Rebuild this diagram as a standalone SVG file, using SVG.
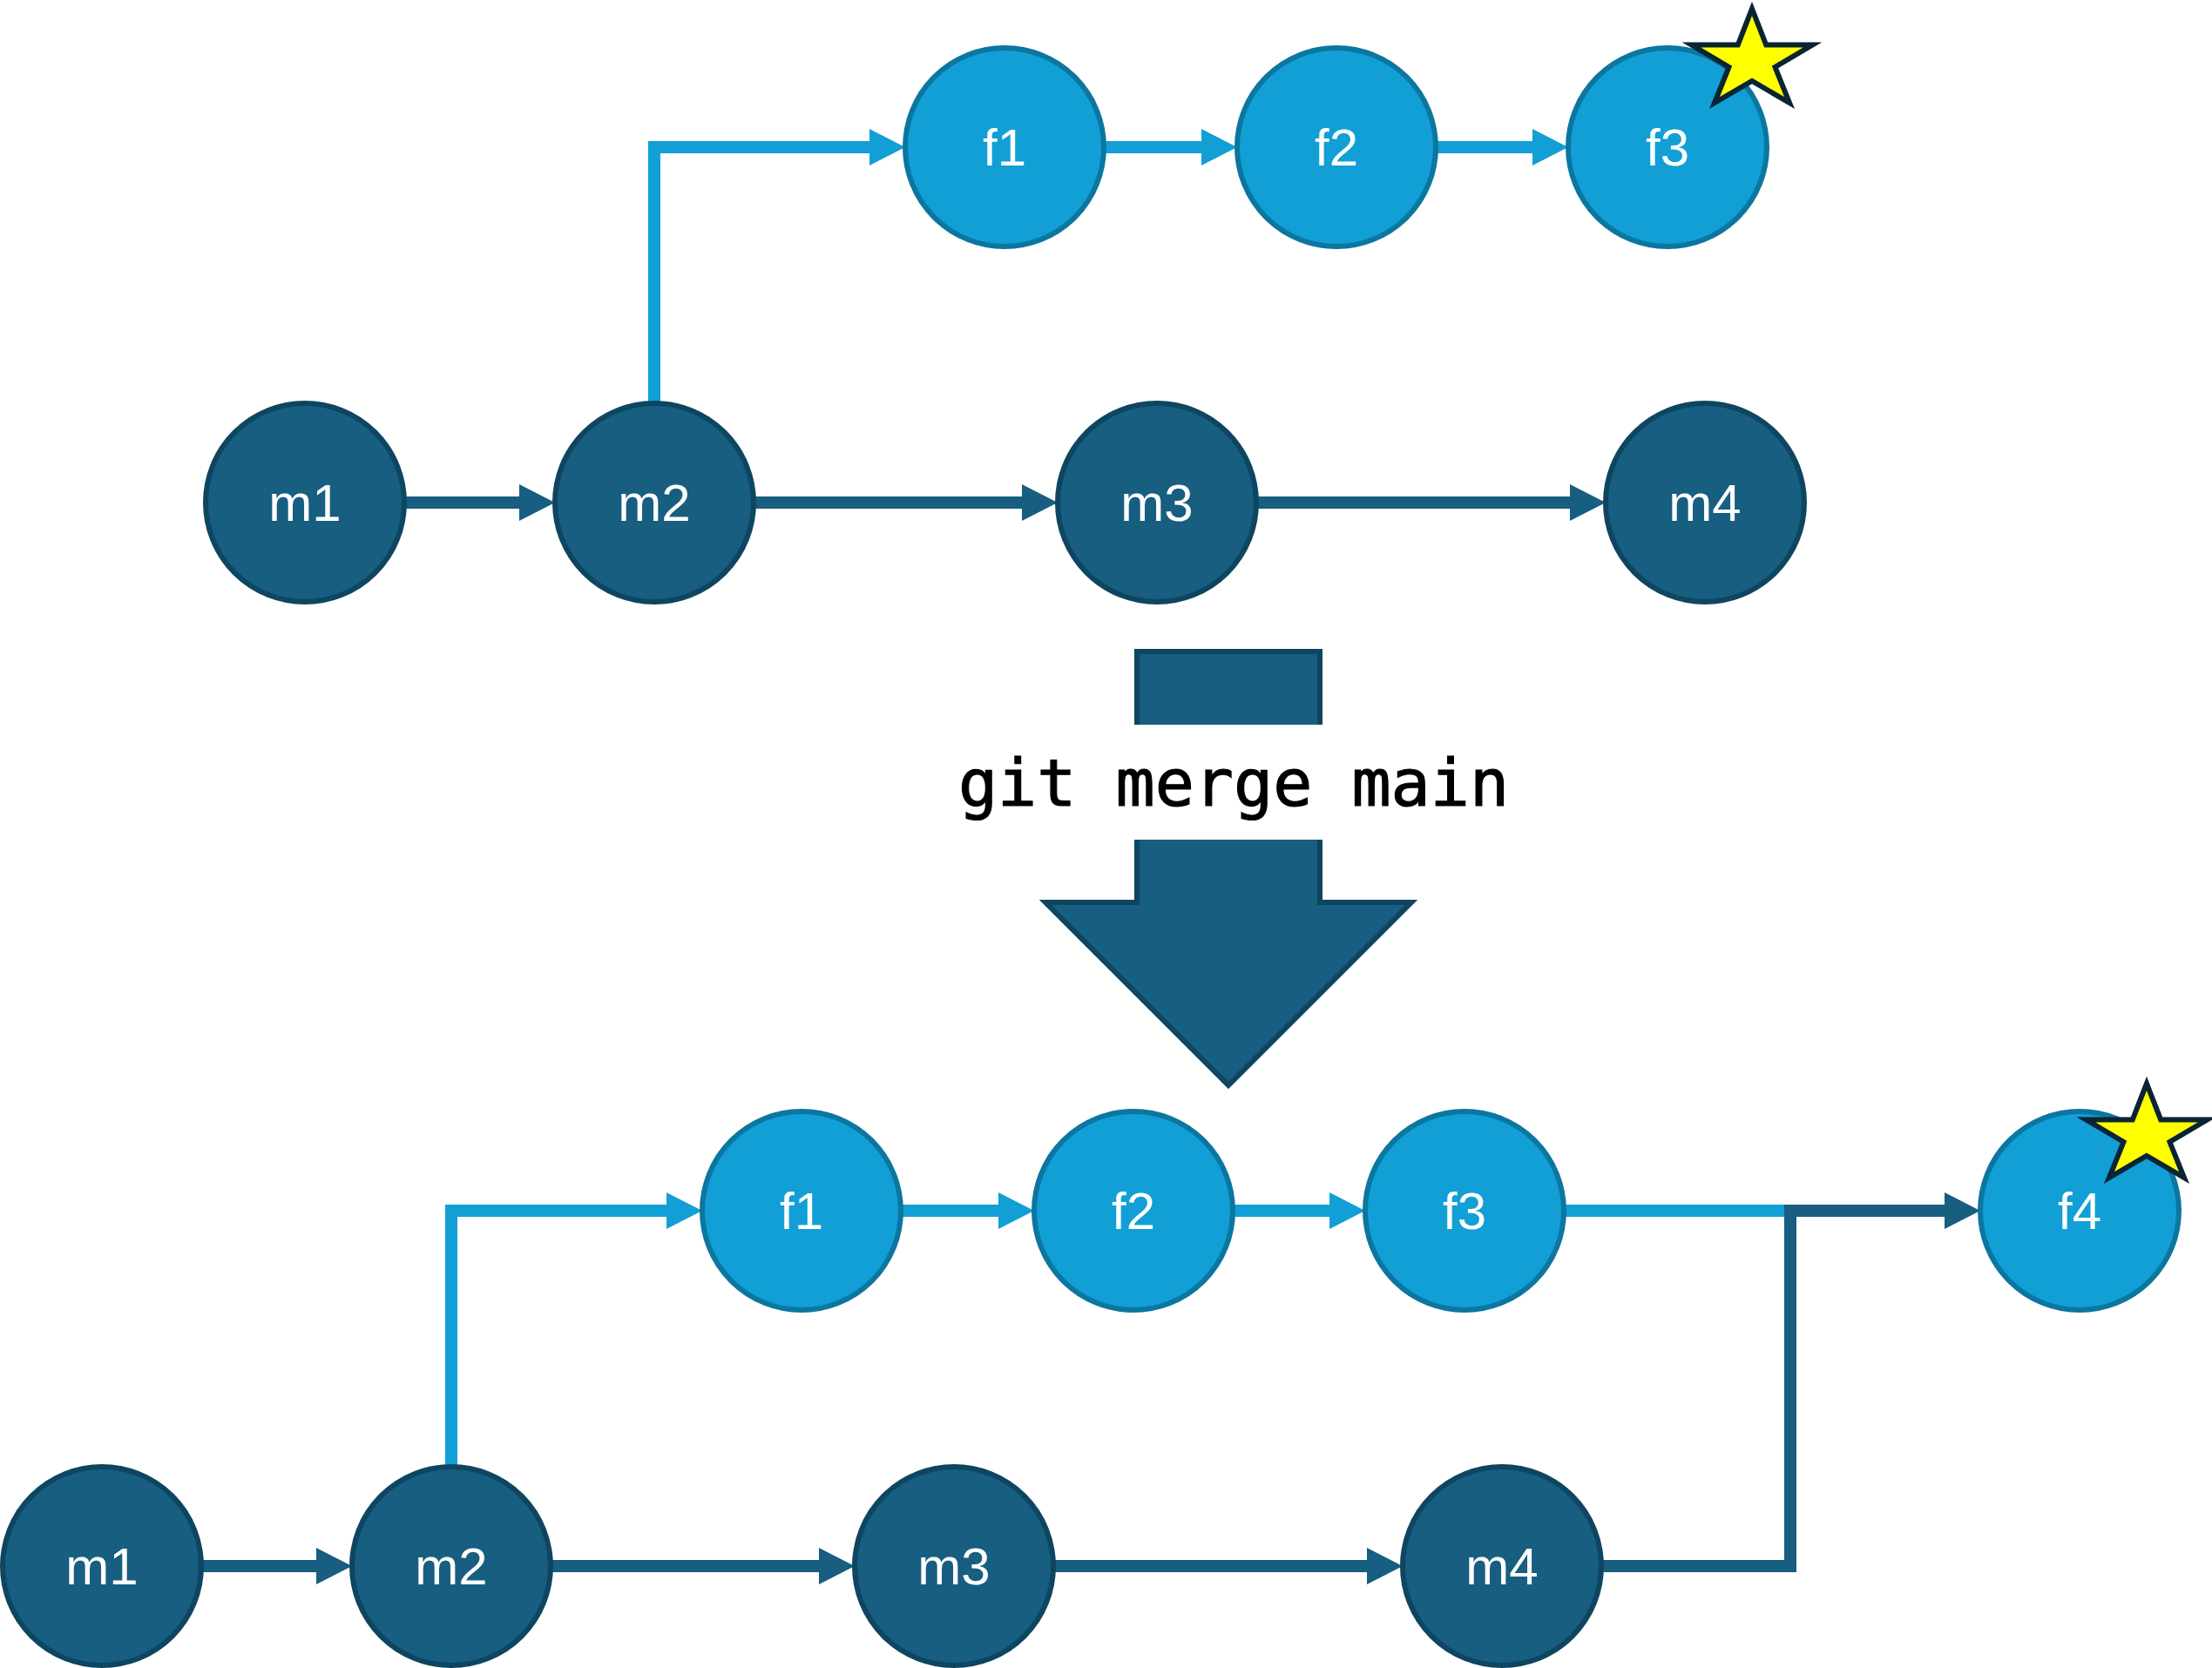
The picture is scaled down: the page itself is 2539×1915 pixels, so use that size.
<svg xmlns="http://www.w3.org/2000/svg" width="2539" height="1915" viewBox="0 0 2539 1915">
<defs>
<style>
.dk circle{fill:#175E80;stroke:#0E4560;stroke-width:6}
.lt circle{fill:#129FD6;stroke:#0B76A0;stroke-width:6}
.lbl{font-family:"Liberation Sans",Arial,sans-serif;font-size:60px;fill:#ffffff;text-anchor:middle}
.cd{fill:none;stroke:#175E80;stroke-width:14;stroke-linejoin:miter}
.cl{fill:none;stroke:#129FD6;stroke-width:14;stroke-linejoin:miter}
.star{fill:#FFFF00;stroke:#0A2433;stroke-width:6;stroke-linejoin:miter}
.cmd{font-family:"DejaVu Sans Mono","Liberation Mono",monospace;font-size:75px;fill:#000000;stroke:#000000;stroke-width:1.2;text-anchor:middle}
</style>
<marker id="ad" markerUnits="userSpaceOnUse" markerWidth="42" markerHeight="42" viewBox="0 0 42 42" refX="0" refY="21" orient="auto"><path d="M0,0 L41,21 L0,42 Z" fill="#175E80"/></marker>
<marker id="al" markerUnits="userSpaceOnUse" markerWidth="42" markerHeight="42" viewBox="0 0 42 42" refX="0" refY="21" orient="auto"><path d="M0,0 L41,21 L0,42 Z" fill="#129FD6"/></marker>
<path id="star" d="M0,-60 L16.2,-18.5 L69.5,-18.5 L26.5,7 L43,48 L0,23 L-43,48 L-26.5,7 L-69.5,-18.5 L-16.2,-18.5 Z"/>
</defs>
<rect width="2539" height="1915" fill="#ffffff"/>

<g id="connectors">
  <path class="cd" d="M464,577 H596" marker-end="url(#ad)"/>
  <path class="cd" d="M865,577 H1173" marker-end="url(#ad)"/>
  <path class="cd" d="M1442,577 H1802" marker-end="url(#ad)"/>
  <path class="cl" d="M751,463 V169 H998" marker-end="url(#al)"/>
  <path class="cl" d="M1267,169 H1379" marker-end="url(#al)"/>
  <path class="cl" d="M1648,169 H1759" marker-end="url(#al)"/>
  <path class="cd" d="M231,1798 H363" marker-end="url(#ad)"/>
  <path class="cd" d="M632,1798 H940" marker-end="url(#ad)"/>
  <path class="cd" d="M1209,1798 H1569" marker-end="url(#ad)"/>
  <path class="cl" d="M518,1684 V1390 H765" marker-end="url(#al)"/>
  <path class="cl" d="M1034,1390 H1146" marker-end="url(#al)"/>
  <path class="cl" d="M1415,1390 H1526" marker-end="url(#al)"/>
  <path class="cl" d="M1795,1390 H2055"/>
  <path class="cd" d="M1838,1798 H2055 V1390 H2232" marker-end="url(#ad)"/>
</g>

<g id="merge-arrow">
  <path d="M1305,748 H1515 V1036 H1620 L1410,1246 L1200,1036 H1305 Z" fill="#175E80" stroke="#0E4560" stroke-width="6"/>
  <rect x="1290" y="832" width="240" height="132" fill="#ffffff"/>
  <text class="cmd" x="1416" y="925">git merge main</text>
</g>

<g id="top-m1" class="dk"><circle cx="350" cy="577" r="114"/><text class="lbl" x="350" y="598">m1</text></g>
<g id="top-m2" class="dk"><circle cx="751" cy="577" r="114"/><text class="lbl" x="751" y="598">m2</text></g>
<g id="top-m3" class="dk"><circle cx="1328" cy="577" r="114"/><text class="lbl" x="1328" y="598">m3</text></g>
<g id="top-m4" class="dk"><circle cx="1957" cy="577" r="114"/><text class="lbl" x="1957" y="598">m4</text></g>
<g id="top-f1" class="lt"><circle cx="1153" cy="169" r="114"/><text class="lbl" x="1153" y="190">f1</text></g>
<g id="top-f2" class="lt"><circle cx="1534" cy="169" r="114"/><text class="lbl" x="1534" y="190">f2</text></g>
<g id="top-f3" class="lt"><circle cx="1914" cy="169" r="114"/><text class="lbl" x="1914" y="190">f3</text><use href="#star" class="star" x="2011" y="70"/></g>

<g id="bot-m1" class="dk"><circle cx="117" cy="1798" r="114"/><text class="lbl" x="117" y="1819">m1</text></g>
<g id="bot-m2" class="dk"><circle cx="518" cy="1798" r="114"/><text class="lbl" x="518" y="1819">m2</text></g>
<g id="bot-m3" class="dk"><circle cx="1095" cy="1798" r="114"/><text class="lbl" x="1095" y="1819">m3</text></g>
<g id="bot-m4" class="dk"><circle cx="1724" cy="1798" r="114"/><text class="lbl" x="1724" y="1819">m4</text></g>
<g id="bot-f1" class="lt"><circle cx="920" cy="1390" r="114"/><text class="lbl" x="920" y="1411">f1</text></g>
<g id="bot-f2" class="lt"><circle cx="1301" cy="1390" r="114"/><text class="lbl" x="1301" y="1411">f2</text></g>
<g id="bot-f3" class="lt"><circle cx="1681" cy="1390" r="114"/><text class="lbl" x="1681" y="1411">f3</text></g>
<g id="bot-f4" class="lt"><circle cx="2387" cy="1390" r="114"/><text class="lbl" x="2387" y="1411">f4</text><use href="#star" class="star" x="2464" y="1304"/></g>
</svg>
